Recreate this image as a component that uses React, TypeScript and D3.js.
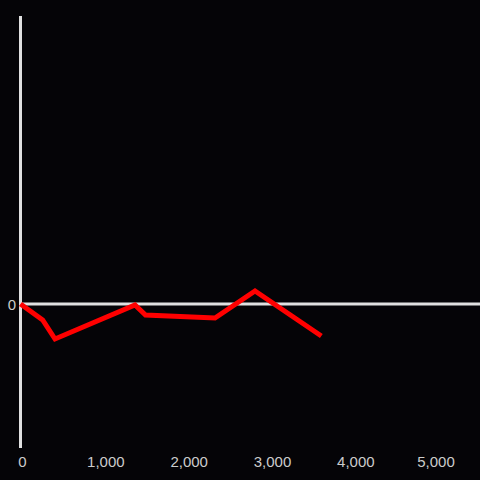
import React from "react";
import * as d3 from "d3";

const xValues = [0, 266, 414, 1374, 1500, 2334, 2814, 3610];
const yValues = [0, -16, -35, -1, -11, -14, 13, -32];
const xTicks = [0, 1000, 2000, 3000, 4000, 5000];
const yTicks = [0];

const W = 480;
const H = 480;

export default function App() {
  const x = d3.scaleLinear().domain([0, 5514]).range([20.5, 480]);
  const y = d3.scaleLinear().domain([-144, 288]).range([448, 16]);
  const pts: [number, number][] = xValues.map((v, i) => [v, yValues[i]]);
  const line = d3
    .line<[number, number]>()
    .x((d) => x(d[0]))
    .y((d) => y(d[1]));
  const fmt = d3.format(",");
  return (
    <svg
      width={W}
      height={H}
      style={{ position: "fixed", left: 0, top: 0, display: "block", background: "#050407" }}
    >
      <rect x={0} y={0} width={W} height={H} fill="#050407" />
      <line x1={x(0)} x2={x(0)} y1={y(288)} y2={y(-144)} stroke="#e0e0e0" strokeWidth={3} />
      <line x1={x(0)} x2={W} y1={y(0)} y2={y(0)} stroke="#e0e0e0" strokeWidth={3} />
      {yTicks.map((t) => (
        <text
          key={t}
          x={16}
          y={y(t) + 0.5}
          textAnchor="end"
          dominantBaseline="central"
          fill="#cccccc"
          fontSize={15}
          fontFamily="Liberation Sans, Arial, sans-serif"
        >
          {fmt(t)}
        </text>
      ))}
      {xTicks.map((t) => (
        <text
          key={t}
          x={Math.min(x(t) + 2, W - 44)}
          y={466.5}
          textAnchor="middle"
          fill="#cccccc"
          fontSize={15}
          fontFamily="Liberation Sans, Arial, sans-serif"
        >
          {fmt(t)}
        </text>
      ))}
      <path d={line(pts) || ""} fill="none" stroke="#ff0000" strokeWidth={5} strokeLinejoin="miter" />
    </svg>
  );
}
